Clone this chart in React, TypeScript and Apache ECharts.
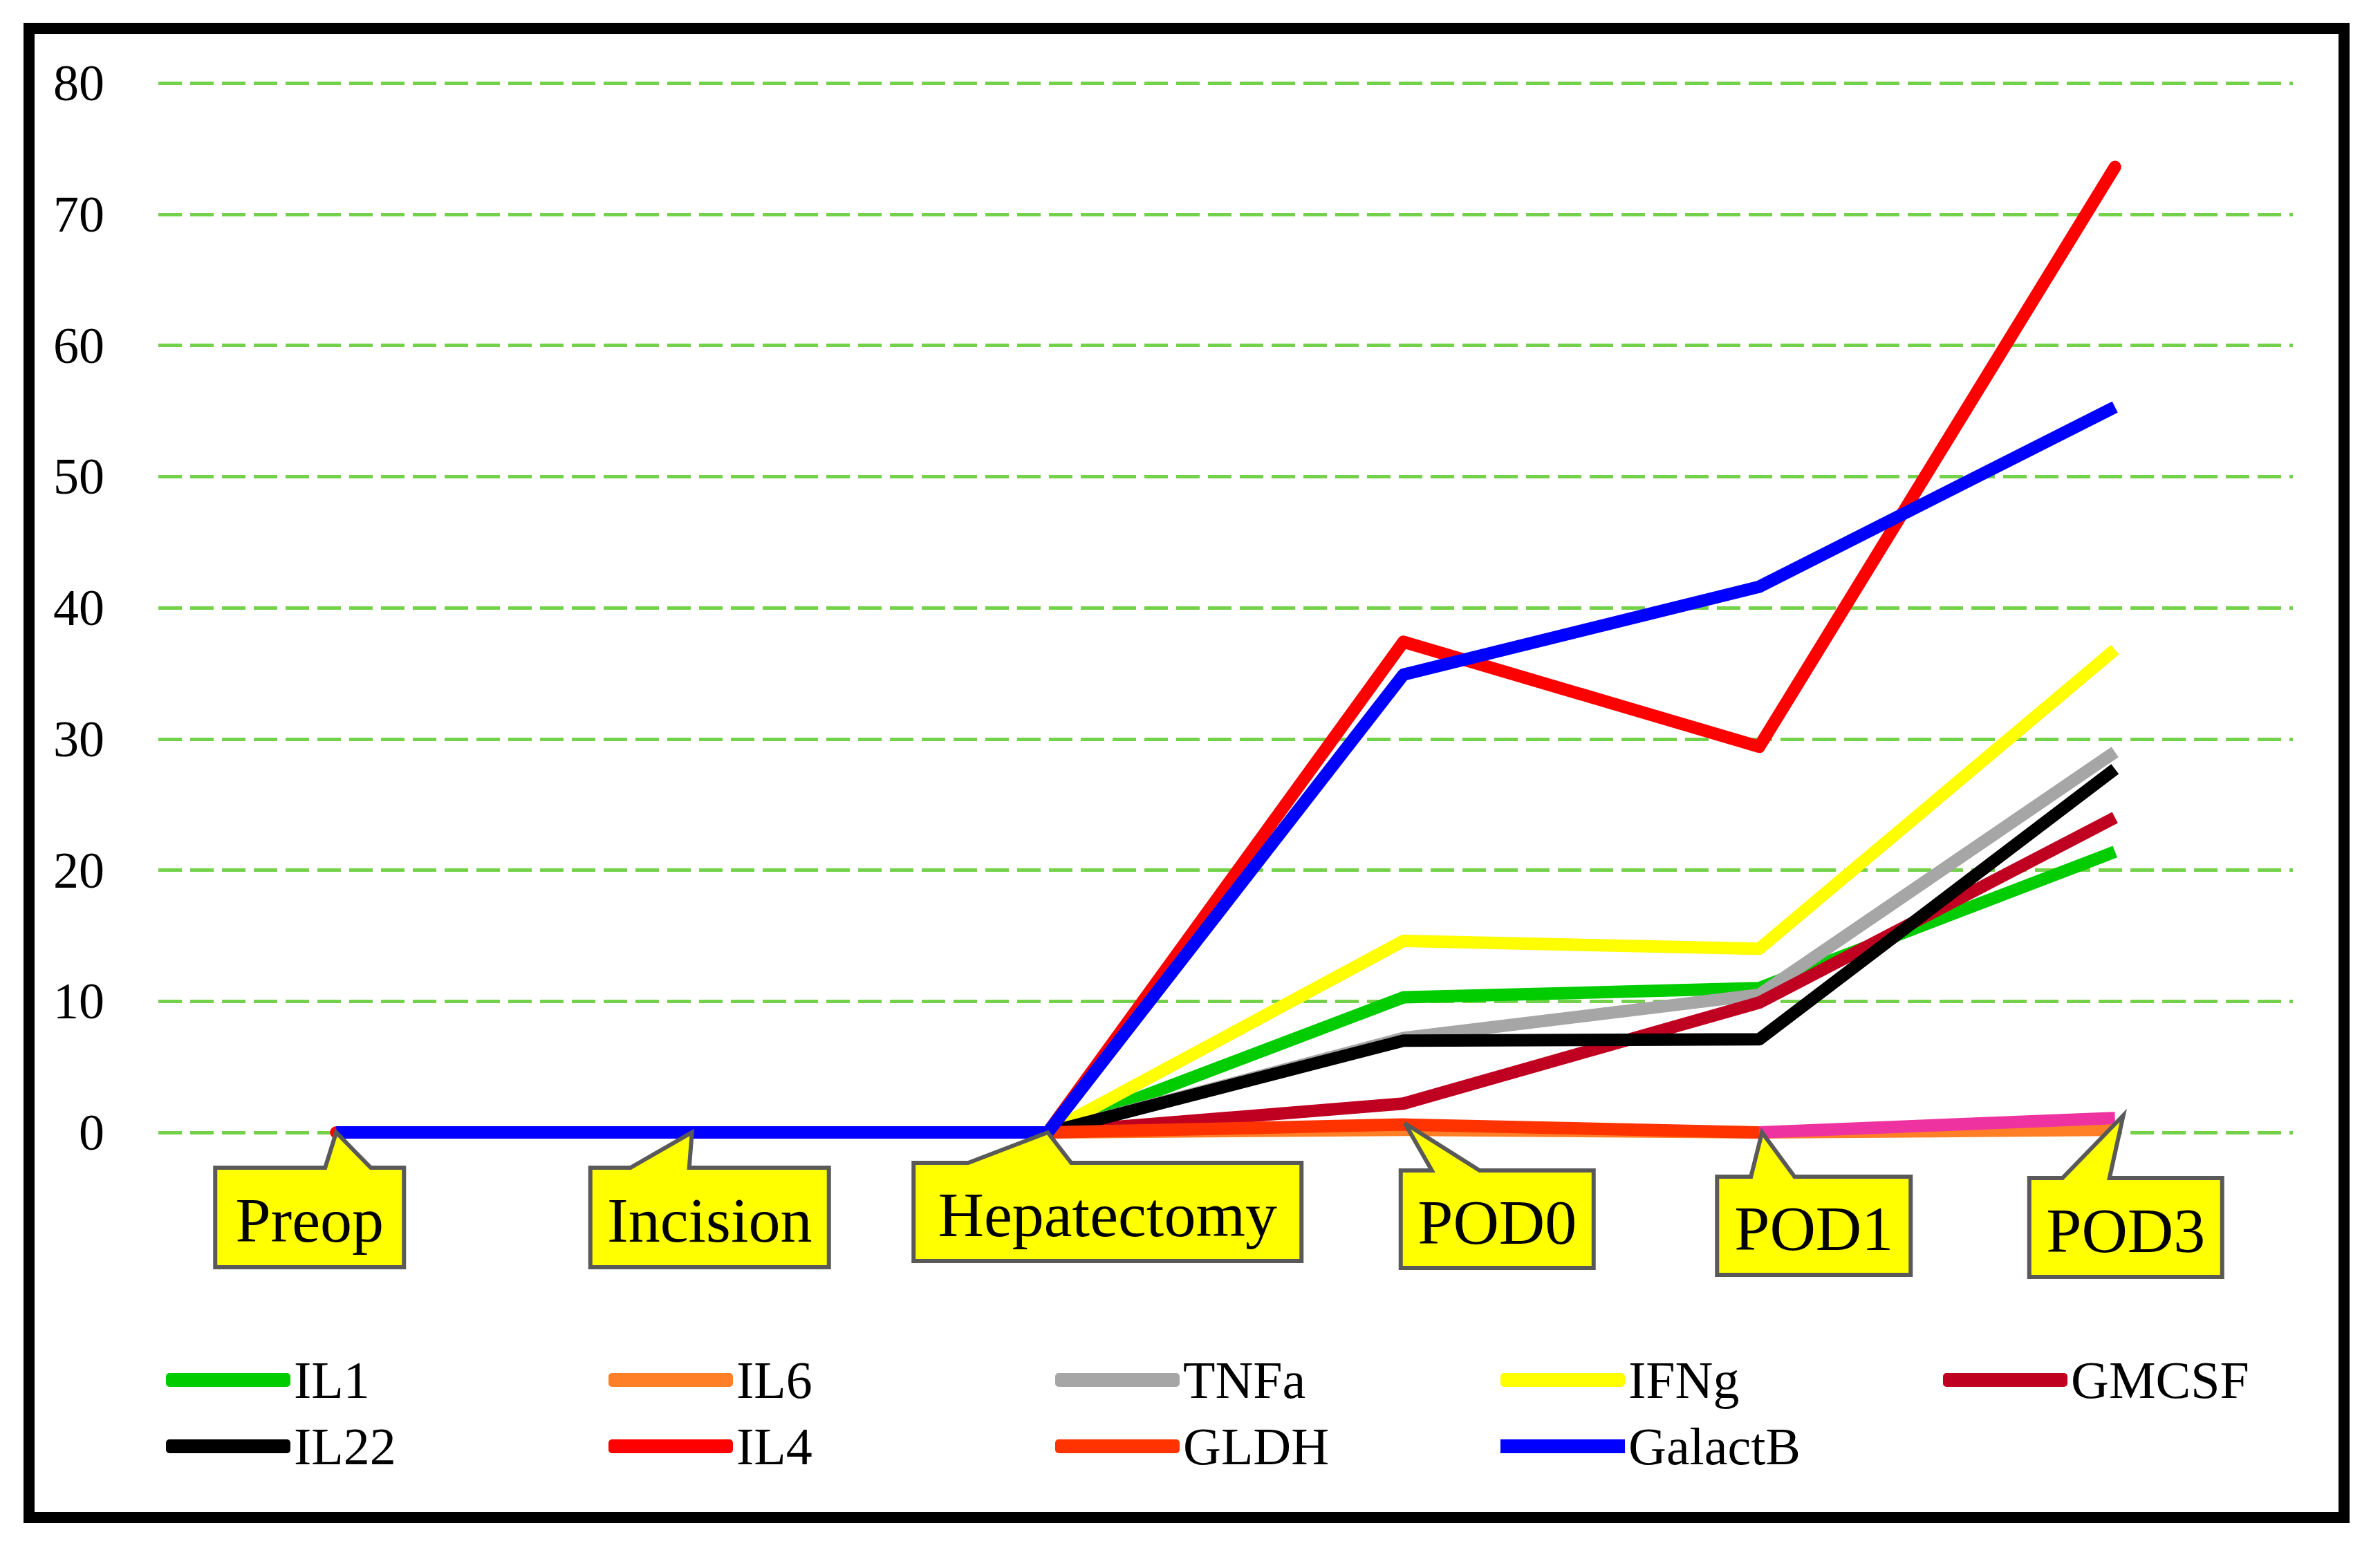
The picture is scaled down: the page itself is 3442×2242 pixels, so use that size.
import React, { useEffect, useRef } from "react";
import * as echarts from "echarts";

const categories = ["Preop", "Incision", "Hepatectomy", "POD0", "POD1", "POD3"];
const yTicks = { min: 0, max: 80, interval: 10 };

const il1 = [0, 0, 0, 10.3, 11.0, 21.4];
const il6 = [0, 0, 0, 0.2, 0, 0.2];
const tnfa = [0, 0, 0, 7.2, 10.5, 29.0];
const ifng = [0, 0, 0, 14.6, 14.0, 36.8];
const gmcsf = [0, 0, 0, 2.2, 9.9, 24.0];
const il22 = [0, 0, 0, 7.0, 7.1, 27.7];
const il4 = [0, 0, 0, 37.4, 29.4, 73.6];
const gldh = [0, 0, 0, 0.6, 0, null];
const extra = [null, null, null, null, 0, 1.1];
const galactB = [0, 0, 0, 34.9, 41.6, 55.3];

// value each callout pointer points at
const calloutAnchor = [0, 0, 0, 0.7, 0, 1.3];

// styling: callout box geometry relative to category centre / zero line
const CALLOUT_SHAPE = [
  { l: -175, r: 98, t: 51, b: 195, b1: -16, b2: 50, tip: 0 },
  { l: -147, r: 198, t: 51, b: 195, b1: -89, b2: -4, tip: 0 },
  { l: -194, r: 367, t: 44, b: 186, b1: -115, b2: 34, tip: 0 },
  { l: -4, r: 275, t: 55, b: 196, b1: 41, b2: 110, tip: 2 },
  { l: -61, r: 219, t: 64, b: 206, b1: -12, b2: 51, tip: 4 },
  { l: -124, r: 155, t: 66, b: 209, b1: -76, b2: -8, tip: 12 },
];

const SERIES = [
  { name: "IL1", data: il1, color: "#00CC00" },
  { name: "IL6", data: il6, color: "#FF7F27" },
  { name: "TNFa", data: tnfa, color: "#A6A6A6" },
  { name: "IFNg", data: ifng, color: "#FFFF00" },
  { name: "GMCSF", data: gmcsf, color: "#C00020" },
  { name: "IL22", data: il22, color: "#000000" },
  { name: "IL4", data: il4, color: "#FF0000" },
  { name: "GLDH", data: gldh, color: "#FF3300" },
  { name: "Other", data: extra, color: "#EE33A0" },
  { name: "GalactB", data: galactB, color: "#0000FF" },
];

const LEGEND_POS = [
  { name: "IL1", left: 240, row: 0 },
  { name: "IL6", left: 880, row: 0 },
  { name: "TNFa", left: 1526, row: 0 },
  { name: "IFNg", left: 2170, row: 0 },
  { name: "GMCSF", left: 2810, row: 0 },
  { name: "IL22", left: 240, row: 1 },
  { name: "IL4", left: 880, row: 1 },
  { name: "GLDH", left: 1526, row: 1 },
  { name: "GalactB", left: 2170, row: 1 },
];
const LEGEND_ROW_TOP = [1956, 2052];

const FONT = "'Liberation Serif', 'Times New Roman', serif";

export default function App() {
  const ref = useRef<HTMLDivElement>(null);
  useEffect(() => {
    if (!ref.current) return;
    const chart = echarts.init(ref.current, null, { renderer: "svg" });
    const lineSeries = SERIES.map((s, i) => ({
      type: "line",
      name: s.name,
      data: s.data,
      showSymbol: false,
      symbol: "none",
      connectNulls: false,
      color: s.color,
      lineStyle: { color: s.color, width: 18, join: "round", cap: s.name === "IL4" ? "round" : "butt" },
      z: 2 + i * 0.01,
    }));
    const callouts = {
      type: "custom",
      name: "callouts",
      z: 10,
      clip: false,
      silent: true,
      data: categories.map((_, i) => [i, calloutAnchor[i]]),
      renderItem: (params: any, api: any) => {
        const i = api.value(0);
        const base = api.coord([i, 0]);
        const tipY = api.coord([i, api.value(1)])[1];
        const s = CALLOUT_SHAPE[i];
        const cx = base[0];
        const zy = base[1];
        const L = cx + s.l, R = cx + s.r, T = zy + s.t, B = zy + s.b;
        const points = [
          [L, T],
          [cx + s.b1, T],
          [cx + s.tip, tipY],
          [cx + s.b2, T],
          [R, T],
          [R, B],
          [L, B],
        ];
        return {
          type: "group",
          children: [
            {
              type: "polygon",
              shape: { points },
              style: { fill: "#FFFF00", stroke: "#595959", lineWidth: 6, lineJoin: "miter" },
            },
            {
              type: "text",
              style: {
                text: categories[i],
                x: (L + R) / 2,
                y: (T + B) / 2 + 4,
                align: "center",
                verticalAlign: "middle",
                fontSize: 92,
                fontFamily: FONT,
                fill: "#000000",
              },
            },
          ],
        };
      },
    };
    const legends = LEGEND_POS.map((p) => ({
      data: [{ name: p.name, icon: p.name === "GalactB" ? "rect" : "roundRect" }],
      left: p.left,
      top: LEGEND_ROW_TOP[p.row],
      padding: 0,
      itemWidth: 180,
      itemHeight: 20,
      selectedMode: false,
      textStyle: { fontSize: 76, fontFamily: FONT, color: "#000", lineHeight: 80 },
    }));
    chart.setOption({
      animation: false,
      backgroundColor: "#ffffff",
      grid: { left: 229, right: 126, top: 120, bottom: 604, containLabel: false },
      xAxis: {
        type: "category",
        data: categories,
        boundaryGap: true,
        axisLabel: { show: false },
        axisLine: { show: false },
        axisTick: { show: false },
        splitLine: { show: false },
      },
      yAxis: {
        type: "value",
        min: yTicks.min,
        max: yTicks.max,
        interval: yTicks.interval,
        axisLine: { show: false },
        axisTick: { show: false },
        axisLabel: { fontSize: 74, fontFamily: FONT, color: "#000", margin: 78 },
        splitLine: { lineStyle: { color: "#74D24A", width: 5, type: [34, 12] } },
      },
      legend: legends,
      graphic: [
        {
          type: "rect",
          shape: { x: 42, y: 41, width: 3348, height: 2154 },
          style: { fill: "none", stroke: "#000", lineWidth: 16 },
          z: 100,
          silent: true,
        },
      ],
      series: [...lineSeries, callouts],
    });
    return () => chart.dispose();
  }, []);
  return (
    <div
      ref={ref}
      style={{ position: "fixed", left: 0, top: 0, width: 3442, height: 2242, background: "#fff" }}
    />
  );
}
